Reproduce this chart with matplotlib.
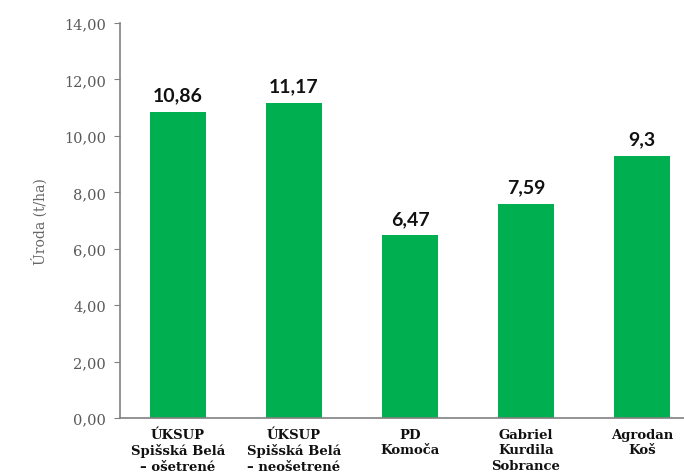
import matplotlib.pyplot as plt

categories = [
    "ÚKSUP\nSpišská Belá\n– ošetrené",
    "ÚKSUP\nSpišská Belá\n– neošetrené",
    "PD\nKomoča",
    "Gabriel\nKurdila\nSobrance",
    "Agrodan\nKoš",
]
values = [10.86, 11.17, 6.47, 7.59, 9.3]
value_labels = ["10,86", "11,17", "6,47", "7,59", "9,3"]
yticks = [0, 2, 4, 6, 8, 10, 12, 14]

GREEN = "#00B050"
GRAY = "#808080"

fig = plt.figure(figsize=(6.84, 4.77), dpi=100)
ax = fig.add_axes([0.1754, 0.1216, 0.848, 0.828])

x = list(range(len(categories)))
ax.bar(x, values, width=0.48, color=GREEN, zorder=2)
ax.set_xlim(-0.5, len(categories) - 0.5)
ax.set_ylim(0, 14)

for xi, v, lab in zip(x, values, value_labels):
    ax.annotate(lab, (xi, v), xytext=(0, 6), textcoords="offset points",
                ha="center", va="bottom", fontsize=14, fontweight="bold",
                family="Lato", color="#111111")

ax.set_yticks(yticks)
ax.set_yticklabels([f"{t:.2f}".replace(".", ",") for t in yticks],
                   family="DejaVu Serif", fontsize=10.5, color="#595959")
ax.set_xticks(x)
ax.set_xticklabels(categories, family="DejaVu Serif", fontsize=9.5,
                   fontweight="bold", color="#111111", linespacing=1.25)
ax.tick_params(axis="x", length=0, pad=7)
ax.tick_params(axis="y", length=4, color=GRAY, pad=6)
ax.set_ylabel("Úroda (t/ha)", family="DejaVu Serif", fontsize=10,
              color="#666666", labelpad=12)

for side in ["top", "right"]:
    ax.spines[side].set_visible(False)
for side in ["left", "bottom"]:
    ax.spines[side].set_color(GRAY)
    ax.spines[side].set_linewidth(1.2)

fig.savefig("out.png", dpi=100)
